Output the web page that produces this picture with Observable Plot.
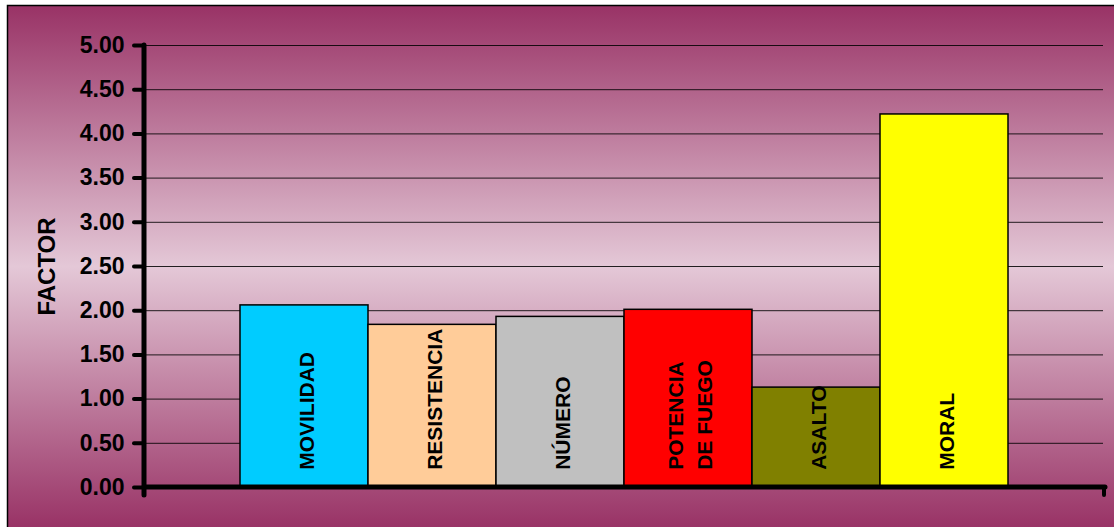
<!DOCTYPE html>
<html>
<head>
<meta charset="utf-8">
<script src="https://cdn.jsdelivr.net/npm/d3@7"></script>
<script src="https://cdn.jsdelivr.net/npm/@observablehq/plot@0.6"></script>
<style>
  html, body { margin: 0; padding: 0; background: white; }
</style>
</head>
<body>
<div id="chart"></div>
<script>
// Factors and their values
const categories = ["MOVILIDAD", "RESISTENCIA", "NÚMERO", "POTENCIA\nDE FUEGO", "ASALTO", "MORAL"];
const values = [2.06, 1.84, 1.93, 2.01, 1.13, 4.22];
const yTicks = [0, 0.5, 1, 1.5, 2, 2.5, 3, 3.5, 4, 4.5, 5];
const barColors = ["#00CCFF", "#FFCC99", "#C0C0C0", "#FF0000", "#808000", "#FFFF00"];

const data = categories.map((factor, i) => ({factor, value: values[i]}));

const W = 1114, H = 527;

// Vertical magenta gradient behind the whole chart, with a thin frame on left and top
function background(index, scales, vals, dims) {
  const g = d3.create("svg:g");
  const grad = g.append("defs").append("linearGradient")
    .attr("id", "bgGrad").attr("x1", 0).attr("y1", 0).attr("x2", 0).attr("y2", 1);
  grad.append("stop").attr("offset", "0%").attr("stop-color", "#993366");
  grad.append("stop").attr("offset", "50%").attr("stop-color", "#E4C8D7");
  grad.append("stop").attr("offset", "100%").attr("stop-color", "#993366");
  g.append("rect")
    .attr("x", 8).attr("y", 6)
    .attr("width", dims.width - 8).attr("height", dims.height - 6)
    .attr("fill", "url(#bgGrad)");
  g.append("path")
    .attr("d", `M7.5,${dims.height}V5.5H${dims.width}`)
    .attr("fill", "none").attr("stroke", "black").attr("stroke-width", 1.5);
  return g.node();
}

// Heavy axis lines drawn on top of the bars
function axisLines(index, scales, vals, dims) {
  const g = d3.create("svg:g")
    .attr("stroke", "black").attr("fill", "none")
    .attr("stroke-linecap", "round");
  const x0 = dims.marginLeft;
  const x1 = dims.width - dims.marginRight;
  const y0 = scales.y(0), yTop = scales.y(5);
  g.append("line").attr("x1", x0).attr("x2", x0).attr("y1", yTop).attr("y2", y0 + 8).attr("stroke-width", 5);
  g.append("line").attr("x1", x0).attr("x2", x1 + 2).attr("y1", y0).attr("y2", y0).attr("stroke-width", 5);
  g.append("line").attr("x1", x1 + 1).attr("x2", x1 + 1).attr("y1", y0).attr("y2", y0 + 8).attr("stroke-width", 4);
  return g.node();
}

const chart = Plot.plot({
  width: W,
  height: H,
  marginLeft: 144,
  marginRight: 11,
  marginTop: 45,
  marginBottom: 40,
  style: {
    fontFamily: "'Liberation Sans', Arial, sans-serif",
    color: "black",
    background: "white"
  },
  x: {domain: categories, paddingInner: 0, paddingOuter: 0.742, axis: null},
  y: {domain: [0, 5], axis: null},
  color: {domain: categories, range: barColors},
  marks: [
    background,
    Plot.ruleY(yTicks.filter(d => d > 0), {stroke: "black", strokeWidth: 1, strokeOpacity: 0.85}),
    Plot.barY(data, {x: "factor", y: "value", fill: "factor", stroke: "black", strokeWidth: 1.5}),
    Plot.text(data, {
      x: "factor",
      y: () => 0.2,
      text: "factor",
      rotate: -90,
      textAnchor: "start",
      lineHeight: 1.35,
      fontSize: 21,
      fontWeight: "bold",
      fill: "black"
    }),
    Plot.axisY({
      ticks: yTicks,
      tickFormat: d3.format(".2f"),
      tickSize: 10,
      tickPadding: 10,
      strokeWidth: 4,
      strokeLinecap: "round",
      fontSize: 23,
      fontWeight: "bold",
      label: null
    }),
    Plot.text(["FACTOR"], {
      frameAnchor: "left",
      textAnchor: "middle",
      dx: -97,
      rotate: -90,
      fontSize: 24,
      fontWeight: "bold",
      fill: "black"
    }),
    axisLines
  ]
});

document.getElementById("chart").appendChild(chart);
</script>
</body>
</html>
